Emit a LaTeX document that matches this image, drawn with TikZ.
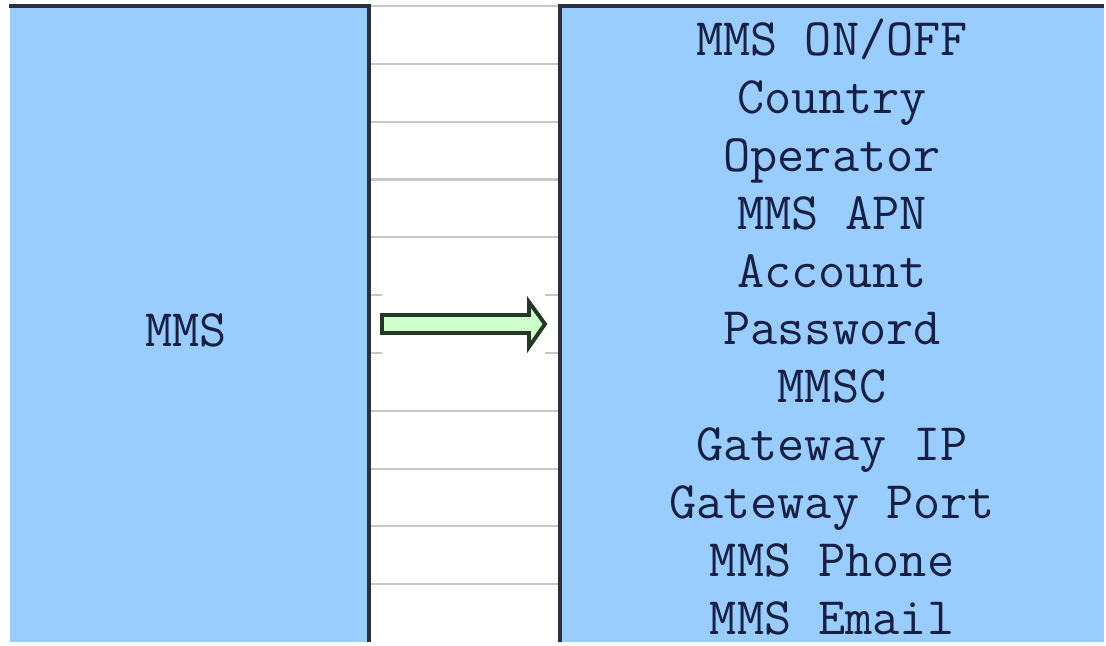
\documentclass[tikz,border=0pt]{standalone}
\usepackage{fontspec}
\usetikzlibrary{positioning}
\definecolor{CellBlue}{RGB}{153,204,255}
\definecolor{GridGray}{RGB}{200,200,200}
\definecolor{EdgeDark}{RGB}{40,48,66}
\definecolor{InkNavy}{RGB}{22,32,66}
\definecolor{ArrowGreen}{RGB}{204,255,204}
\definecolor{ArrowEdge}{RGB}{36,56,36}
\tikzset{
  celltxt/.style={font=\ttfamily\fontsize{30}{33}\selectfont, text=InkNavy, inner sep=0pt},
  borderline/.style={EdgeDark, line width=2.6pt},
  gridline/.style={GridGray, line width=1.2pt},
  blockarrow/.style={draw=ArrowEdge, fill=ArrowGreen, line width=2.2pt, line join=miter},
}
\begin{document}
\begin{tikzpicture}[x=0.02cm, y=-0.02cm]
  \useasboundingbox (0,0) rectangle (1106,646);
  % cells
  \fill[CellBlue] (10,6) rectangle (369,642);
  \fill[CellBlue] (560,6) rectangle (1104,642);
  % grid of the empty column
  \draw[gridline] (369,6) -- (560,6);
  \foreach \r in {1,...,10} {
    \pgfmathsetmacro{\yy}{6+57.82*\r}
    \ifnum\r=5 \def\gap{1}\else\ifnum\r=6 \def\gap{1}\else\def\gap{0}\fi\fi
    \ifnum\gap=1
      \draw[gridline] (369,\yy) -- (382,\yy);
      \draw[gridline] (545,\yy) -- (560,\yy);
    \else
      \draw[gridline] (369,\yy) -- (560,\yy);
    \fi
  }
  % borders
  \draw[borderline] (9,6) -- (369,6) -- (369,642);
  \draw[borderline] (560,642) -- (560,6) -- (1104,6);
  % texts
  \node[celltxt] (mms) at (186,330) {MMS};
  \foreach \t [count=\i] in {{MMS ON/OFF},Country,Operator,{MMS APN},Account,Password,MMSC,
      {Gateway IP},{Gateway Port},{MMS Phone},{MMS Email}} {
    \pgfmathsetmacro{\yb}{6+57.82*\i-8}
    \node[celltxt, anchor=base] (item\i) at (832,\yb) {\t};
  }
  % arrow
  \draw[blockarrow] (382,315) -- (529,315) -- (529,302) -- (545,324) -- (529,347)
    -- (529,333) -- (382,333) -- cycle;
\end{tikzpicture}
\end{document}
